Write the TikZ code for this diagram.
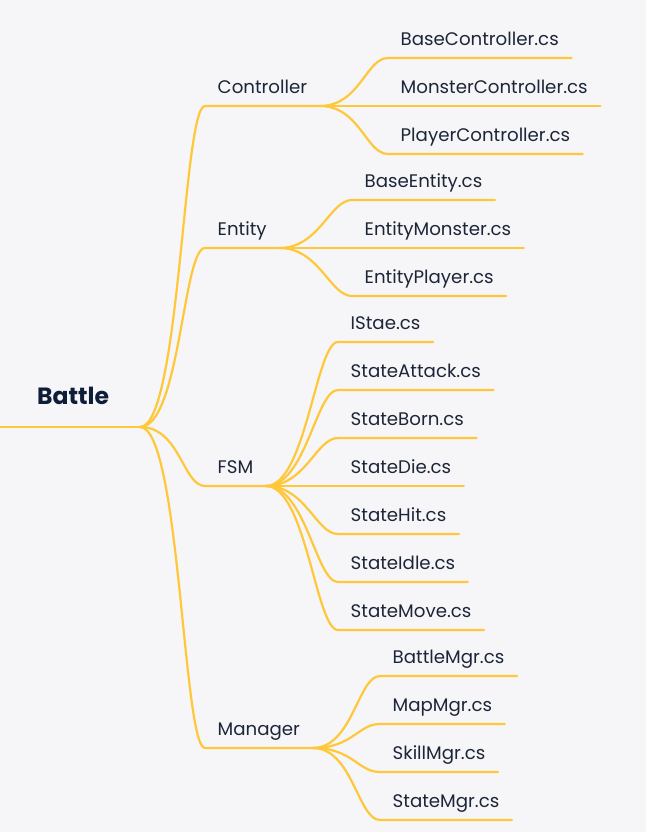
\documentclass[tikz,border=0pt]{standalone}
\usepackage{fontspec}
\setmainfont{Poppins}
\usetikzlibrary{positioning}
\definecolor{paper}{HTML}{F6F6F8}
\definecolor{ink}{HTML}{1C2638}
\definecolor{rootink}{HTML}{0F1E38}
\definecolor{wire}{HTML}{FFC73A}

\begin{document}
\begin{tikzpicture}[x=1pt,y=-1pt,
    line/.style={draw=wire, line width=2.2pt, line cap=round},
    branch/.style={line, to path={.. controls +(40,0) and +(-22,0) .. (\tikztotarget)}},
    item/.style={anchor=south west, inner xsep=12.5pt, inner ysep=12pt,
        text depth=0pt, text=ink, font=\fontsize{18.2}{20}\selectfont},
    rootitem/.style={anchor=base west, inner sep=0pt, text=rootink,
        font=\fontsize{23.5}{26}\selectfont\bfseries}]

    % canvas
    \fill[paper] (0,0) rectangle (646,832);
    \useasboundingbox (0,0) rectangle (646,832);

    % root
    \node[rootitem] (battle) at (37,404) {Battle};
    \coordinate (stem) at (0,427);
    \coordinate (hub) at (140,427);
    \draw[line] (stem) -- (hub);

    % first level
    \node[item] (ctrl) at (205,106) {Controller};
    \node[item] (ent) at (205,248) {Entity};
    \node[item] (fsm) at (205,486) {FSM};
    \node[item] (mgr) at (205,748) {Manager};
    \foreach \n in {ctrl,ent,fsm,mgr}
        \draw[branch] (hub) to (\n.south west) -- (\n.south east);

    % Controller
    \foreach \y/\name/\txt in {58/basectrl/BaseController.cs,
            106/monctrl/MonsterController.cs,
            154/plyctrl/PlayerController.cs}{
        \node[item] (\name) at (388,\y) {\txt};
        \draw[branch] (ctrl.south east) to (\name.south west) -- (\name.south east);
    }

    % Entity
    \foreach \y/\name/\txt in {200/baseent/BaseEntity.cs,
            248/entmon/EntityMonster.cs,
            296/entply/EntityPlayer.cs}{
        \node[item] (\name) at (352,\y) {\txt};
        \draw[branch] (ent.south east) to (\name.south west) -- (\name.south east);
    }

    % FSM
    \foreach \y/\name/\txt in {342/istae/IStae.cs,
            390/attack/StateAttack.cs,
            438/born/StateBorn.cs,
            486/die/StateDie.cs,
            534/hit/StateHit.cs,
            582/idle/StateIdle.cs,
            630/move/StateMove.cs}{
        \node[item] (\name) at (338,\y) {\txt};
        \draw[branch] (fsm.south east) to (\name.south west) -- (\name.south east);
    }

    % Manager
    \foreach \y/\name/\txt in {676/battlemgr/BattleMgr.cs,
            724/mapmgr/MapMgr.cs,
            772/skillmgr/SkillMgr.cs,
            820/statemgr/StateMgr.cs}{
        \node[item] (\name) at (380,\y) {\txt};
        \draw[branch] (mgr.south east) to (\name.south west) -- (\name.south east);
    }
\end{tikzpicture}
\end{document}
